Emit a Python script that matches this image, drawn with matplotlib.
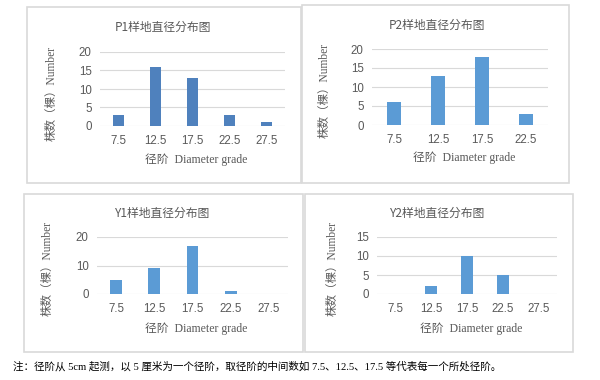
import matplotlib
matplotlib.use("Agg")
import matplotlib.pyplot as plt
from matplotlib.patches import Rectangle

# data
p1_grades = ["7.5", "12.5", "17.5", "22.5", "27.5"]
p1_counts = [3, 16, 13, 3, 1]
p2_grades = ["7.5", "12.5", "17.5", "22.5"]
p2_counts = [6, 13, 18, 3]
y1_grades = ["7.5", "12.5", "17.5", "22.5", "27.5"]
y1_counts = [5, 9, 17, 1, 0]
y2_grades = ["7.5", "12.5", "17.5", "22.5", "27.5"]
y2_counts = [0, 2, 10, 5, 0]

titles = ["P1样地直径分布图", "P2样地直径分布图", "Y1样地直径分布图", "Y2样地直径分布图"]
note = "注：径阶从 5cm 起测，以 5 厘米为一个径阶，取径阶的中间数如 7.5、12.5、17.5 等代表每一个所处径阶。"

W, H = 600, 380
GREY = "#595959"
SANS = ["Noto Sans CJK SC", "DejaVu Sans"]
SERIF = ["Liberation Serif", "Noto Sans CJK SC"]

fig = plt.figure(figsize=(W / 100, H / 100), dpi=100)


def rect(x0, y0, x1, y1):
    return [x0 / W, 1 - y1 / H, (x1 - x0) / W, (y1 - y0) / H]


def box(x0, y0, x1, y1):
    fig.patches.append(Rectangle((x0 / W, 1 - y1 / H), (x1 - x0) / W, (y1 - y0) / H,
                                 transform=fig.transFigure, fill=False,
                                 edgecolor="#d9d9d9", linewidth=1.2))


def text(x, y, s, **kw):
    fig.text(x / W, 1 - y / H, s, **kw)


def panel(plot_px, grades, counts, ymax, step, color, title, title_xy, ylab_x, ylab_y, tick_y, xlab_y):
    ax = fig.add_axes(rect(*plot_px))
    pos = list(range(len(grades)))
    ax.bar(pos, counts, width=0.31, color=color, zorder=3)
    ax.set_xlim(-0.5, len(grades) - 0.5)
    ax.set_ylim(0, ymax)
    ax.set_yticks(range(0, ymax + 1, step))
    ax.set_xticks(pos)
    ax.set_xticklabels([])
    ax.tick_params(axis="y", length=0, labelsize=8.3, labelcolor=GREY, pad=6)
    ax.tick_params(axis="x", length=0)
    for lab in ax.get_yticklabels():
        lab.set_family(["Liberation Sans"])
    ax.grid(axis="y", color="#d9d9d9", linewidth=0.8, zorder=0)
    ax.set_axisbelow(True)
    for s in ax.spines.values():
        s.set_visible(False)
    # category labels drawn below the axis
    for p, g in zip(pos, grades):
        ax.annotate(g, xy=(p, 0), xycoords="data", xytext=(0, -(tick_y - plot_px[3])),
                    textcoords="offset pixels", ha="center", va="center",
                    fontsize=8.3, color=GREY, family=["Liberation Sans"])
    text(title_xy[0], title_xy[1], title, ha="center", va="center", fontsize=8.5,
         color=GREY, family=SANS)
    text(ylab_x, ylab_y, "株数（棵）Number", ha="center", va="center", rotation=90,
         fontsize=8.3, color=GREY, family=SERIF)
    text((plot_px[0] + plot_px[2]) / 2 + 4, xlab_y, "径阶  Diameter grade", ha="center",
         va="center", fontsize=8.5, color=GREY, family=SERIF)


# panel borders
box(27, 7, 301, 183)
box(302, 5, 569, 183)
box(24, 194, 303, 352)
box(305, 194, 573, 352)

panel((100, 52, 285, 126), p1_grades, p1_counts, 20, 5, "#4F81BD",
      titles[0], (163, 27), 52, 93, 141, 160)
panel((372, 49, 548, 125), p2_grades, p2_counts, 20, 5, "#5B9BD5",
      titles[1], (437, 25), 325, 90, 140, 158)
panel((97, 237, 288, 294), y1_grades, y1_counts, 20, 10, "#5B9BD5",
      titles[2], (163, 213), 48, 268, 309, 329)
panel((377, 237, 557, 294), y2_grades, y2_counts, 15, 5, "#5B9BD5",
      titles[3], (438, 213), 333, 268, 309, 329)

text(13, 366, note, ha="left", va="center", fontsize=7.6, color="black", family=SERIF)

fig.savefig("out.png", dpi=100, facecolor="white")
